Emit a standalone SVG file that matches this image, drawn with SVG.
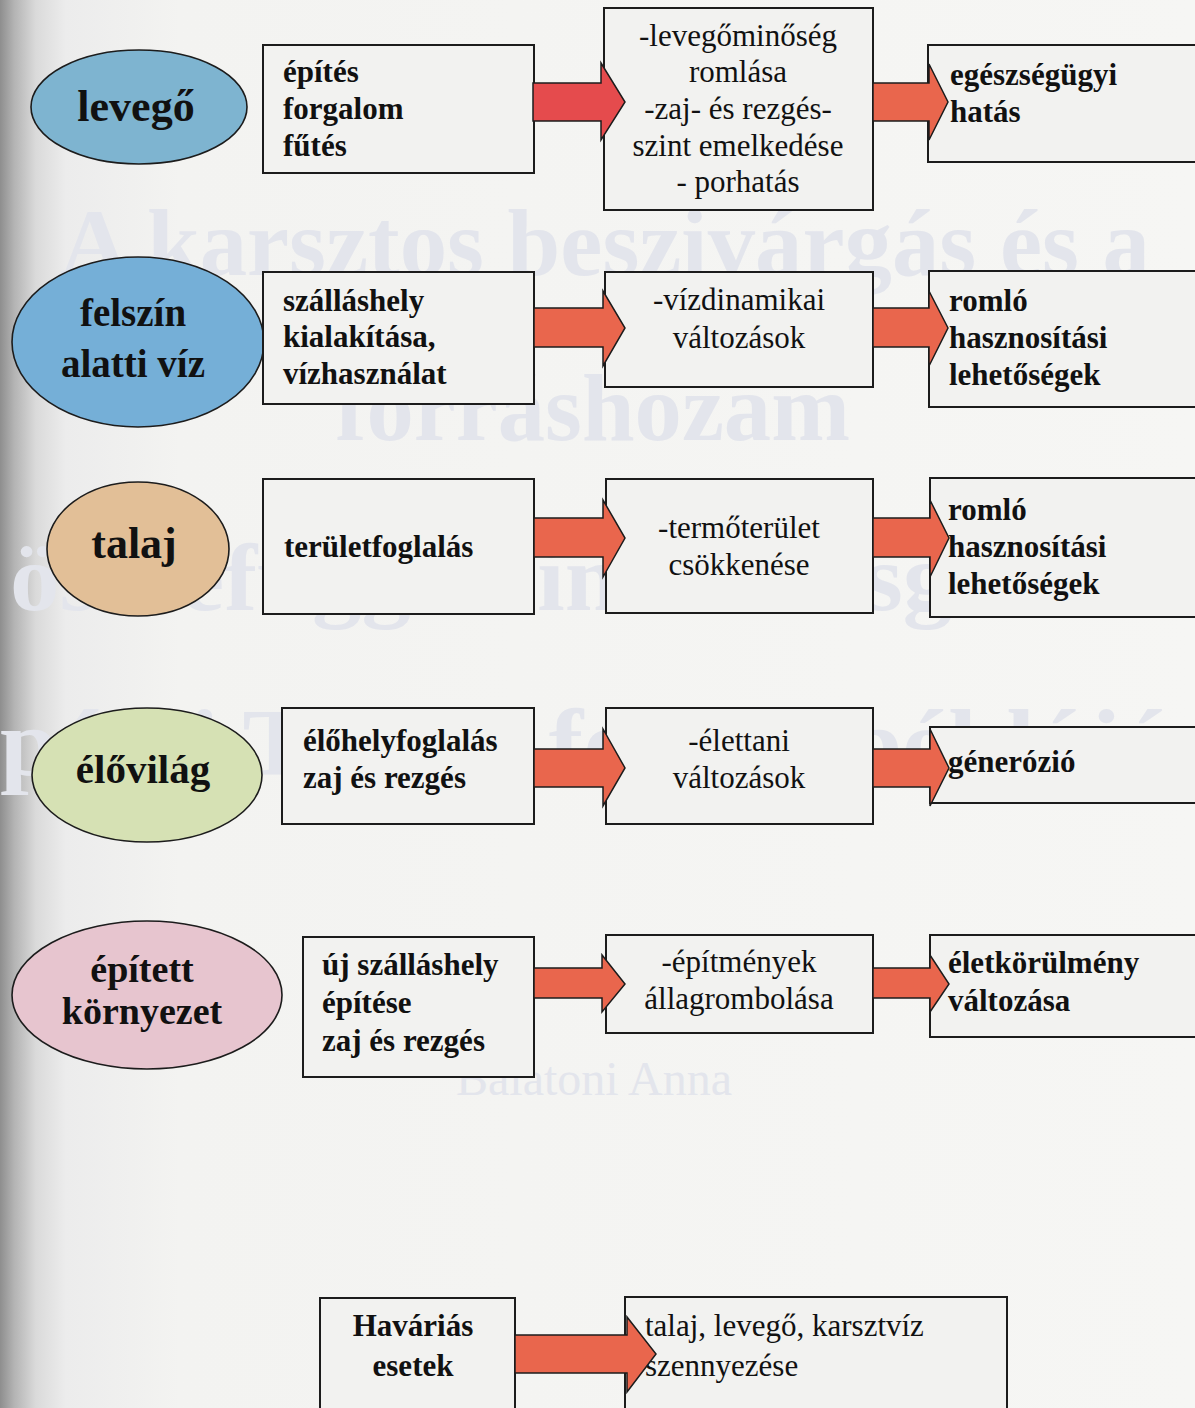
<svg xmlns="http://www.w3.org/2000/svg" width="1195" height="1408" viewBox="0 0 1195 1408">
<defs>
<linearGradient id="bg" x1="0" y1="0" x2="1195" y2="0" gradientUnits="userSpaceOnUse">
<stop offset="0" stop-color="#8e8e8e"/>
<stop offset="0.012" stop-color="#b4b4b4"/>
<stop offset="0.03" stop-color="#dadada"/>
<stop offset="0.055" stop-color="#ececec"/>
<stop offset="0.15" stop-color="#f3f3f1"/>
<stop offset="1" stop-color="#f6f6f4"/>
</linearGradient>
</defs>
<style>
.bx{fill:#f2f2f0;stroke:#1c1c1c;stroke-width:2}
.el{stroke:#1c1c1c;stroke-width:1.6}
.ar{stroke:#1c1c1c;stroke-width:1.5;stroke-linejoin:miter}
.tb{font-family:"Liberation Serif",serif;font-weight:bold;font-size:31px;fill:#111}
.tr{font-family:"Liberation Serif",serif;font-size:31px;fill:#111}
.te{font-family:"Liberation Serif",serif;font-weight:bold;fill:#111;text-anchor:middle}
.c{text-anchor:middle}
.wm{font-family:"Liberation Serif",serif;font-weight:bold;font-size:96px;fill:#e3e5ec}
.wn{font-family:"Liberation Serif",serif;font-size:48px;fill:#e3e5ec;text-anchor:middle}
</style>
<rect x="0" y="0" width="1195" height="1408" fill="url(#bg)"/>
<g id="watermark">
<text class="wm" x="60" y="275" textLength="1090" lengthAdjust="spacingAndGlyphs">A karsztos beszivárgás és a</text>
<text class="wm" x="335" y="440" textLength="515" lengthAdjust="spacingAndGlyphs">forráshozam</text>
<text class="wm" x="10" y="610" textLength="1225" lengthAdjust="spacingAndGlyphs">összefüggéseinek vizsgálata a</text>
<text class="wm" x="0" y="775" textLength="1230" lengthAdjust="spacingAndGlyphs">pécsi Tettye-forrás példáján</text>
<text class="wn" x="594" y="1095">Balatoni Anna</text>
</g>

<g id="levego">
<ellipse class="el" cx="139" cy="107" rx="108" ry="57" fill="#7eb4d0"/>
<text class="te" x="136" y="121" font-size="44">levegő</text>
</g>
<g id="levego-ok">
<rect class="bx" x="263" y="45" width="271" height="128"/>
<text class="tb" x="283" y="82">építés</text>
<text class="tb" x="283" y="119">forgalom</text>
<text class="tb" x="283" y="156">fűtés</text>
</g>
<g id="levego-hatas">
<rect class="bx" x="604" y="8" width="269" height="202"/>
<text class="tr c" x="738" y="46">-levegőminőség</text>
<text class="tr c" x="738" y="82">romlása</text>
<text class="tr c" x="738" y="119">-zaj- és rezgés-</text>
<text class="tr c" x="738" y="156">szint emelkedése</text>
<text class="tr c" x="738" y="192">- porhatás</text>
</g>
<g id="levego-kov">
<rect class="bx" x="928" y="45" width="290" height="117"/>
<text class="tb" x="950" y="85">egészségügyi</text>
<text class="tb" x="950" y="122">hatás</text>
</g>

<g id="viz">
<ellipse class="el" cx="138" cy="342" rx="126" ry="85" fill="#75afd7"/>
<text class="te" x="133" y="326" font-size="39">felszín</text>
<text class="te" x="133" y="377" font-size="39">alatti víz</text>
</g>
<g id="viz-ok">
<rect class="bx" x="263" y="272" width="271" height="132"/>
<text class="tb" x="283" y="311">szálláshely</text>
<text class="tb" x="283" y="347">kialakítása,</text>
<text class="tb" x="283" y="384">vízhasználat</text>
</g>
<g id="viz-hatas">
<rect class="bx" x="605" y="272" width="268" height="115"/>
<text class="tr c" x="739" y="310">-vízdinamikai</text>
<text class="tr c" x="739" y="348">változások</text>
</g>
<g id="viz-kov">
<rect class="bx" x="929" y="271" width="290" height="136"/>
<text class="tb" x="949" y="311">romló</text>
<text class="tb" x="949" y="348">hasznosítási</text>
<text class="tb" x="949" y="385">lehetőségek</text>
</g>

<g id="talaj">
<ellipse class="el" cx="138" cy="549" rx="91" ry="67" fill="#e2bf97"/>
<text class="te" x="134" y="558" font-size="44">talaj</text>
</g>
<g id="talaj-ok">
<rect class="bx" x="263" y="479" width="271" height="135"/>
<text class="tb" x="284" y="557">területfoglalás</text>
</g>
<g id="talaj-hatas">
<rect class="bx" x="606" y="479" width="267" height="134"/>
<text class="tr c" x="739" y="538">-termőterület</text>
<text class="tr c" x="739" y="575">csökkenése</text>
</g>
<g id="talaj-kov">
<rect class="bx" x="930" y="478" width="290" height="139"/>
<text class="tb" x="948" y="520">romló</text>
<text class="tb" x="948" y="557">hasznosítási</text>
<text class="tb" x="948" y="594">lehetőségek</text>
</g>

<g id="elovilag">
<ellipse class="el" cx="147" cy="775" rx="115" ry="67" fill="#d6e1b4"/>
<text class="te" x="143" y="783" font-size="41">élővilág</text>
</g>
<g id="elovilag-ok">
<rect class="bx" x="282" y="708" width="252" height="116"/>
<text class="tb" x="303" y="751">élőhelyfoglalás</text>
<text class="tb" x="303" y="788">zaj és rezgés</text>
</g>
<g id="elovilag-hatas">
<rect class="bx" x="606" y="708" width="267" height="116"/>
<text class="tr c" x="739" y="751">-élettani</text>
<text class="tr c" x="739" y="788">változások</text>
</g>
<g id="elovilag-kov">
<rect class="bx" x="930" y="727" width="290" height="76"/>
<text class="tb" x="948" y="772">génerózió</text>
</g>

<g id="epitett">
<ellipse class="el" cx="147" cy="995" rx="135" ry="74" fill="#e7c5cf"/>
<text class="te" x="142" y="982" font-size="38">épített</text>
<text class="te" x="142" y="1024" font-size="38">környezet</text>
</g>
<g id="epitett-ok">
<rect class="bx" x="303" y="937" width="231" height="140"/>
<text class="tb" x="322" y="975">új szálláshely</text>
<text class="tb" x="322" y="1013">építése</text>
<text class="tb" x="322" y="1051">zaj és rezgés</text>
</g>
<g id="epitett-hatas">
<rect class="bx" x="606" y="935" width="267" height="98"/>
<text class="tr c" x="739" y="972">-építmények</text>
<text class="tr c" x="739" y="1009">állagrombolása</text>
</g>
<g id="epitett-kov">
<rect class="bx" x="930" y="935" width="290" height="102"/>
<text class="tb" x="948" y="973">életkörülmény</text>
<text class="tb" x="948" y="1011">változása</text>
</g>

<g id="havarias">
<rect class="bx" x="320" y="1298" width="195" height="130"/>
<text class="tb c" x="413" y="1336">Haváriás</text>
<text class="tb c" x="413" y="1376">esetek</text>
</g>
<g id="havarias-kov">
<rect class="bx" x="625" y="1297" width="382" height="131"/>
<text class="tr" x="645" y="1336">talaj, levegő, karsztvíz</text>
<text class="tr" x="645" y="1376">szennyezése</text>
</g>

<g id="connectors">
<path class="ar" fill="#e54b4d" d="M533,83 H601 V63 L625,102 L601,140 V121 H533 Z"/>
<path class="ar" fill="#e9664d" d="M873,83 H929 V64 L948,102 L929,140 V121 H873 Z"/>
<path class="ar" fill="#e9664d" d="M534,308 H603 V291 L625,328 L603,366 V347 H534 Z"/>
<path class="ar" fill="#e9664d" d="M873,308 H929 V291 L948,328 L929,366 V347 H873 Z"/>
<path class="ar" fill="#e9664d" d="M534,518 H603 V500 L625,538 L603,577 V557 H534 Z"/>
<path class="ar" fill="#e9664d" d="M873,518 H930 V500 L949,538 L930,577 V557 H873 Z"/>
<path class="ar" fill="#e9664d" d="M534,749 H603 V729 L625,768 L603,806 V787 H534 Z"/>
<path class="ar" fill="#e9664d" d="M873,749 H930 V729 L949,768 L930,806 V787 H873 Z"/>
<path class="ar" fill="#e9664d" d="M534,968 H602 V955 L625,984 L602,1012 V998 H534 Z"/>
<path class="ar" fill="#e9664d" d="M873,968 H930 V955 L949,984 L930,1012 V998 H873 Z"/>
<path class="ar" fill="#e9664d" d="M515,1335 H627 V1317 L656,1354 L627,1392 V1373 H515 Z"/>
</g>
</svg>
